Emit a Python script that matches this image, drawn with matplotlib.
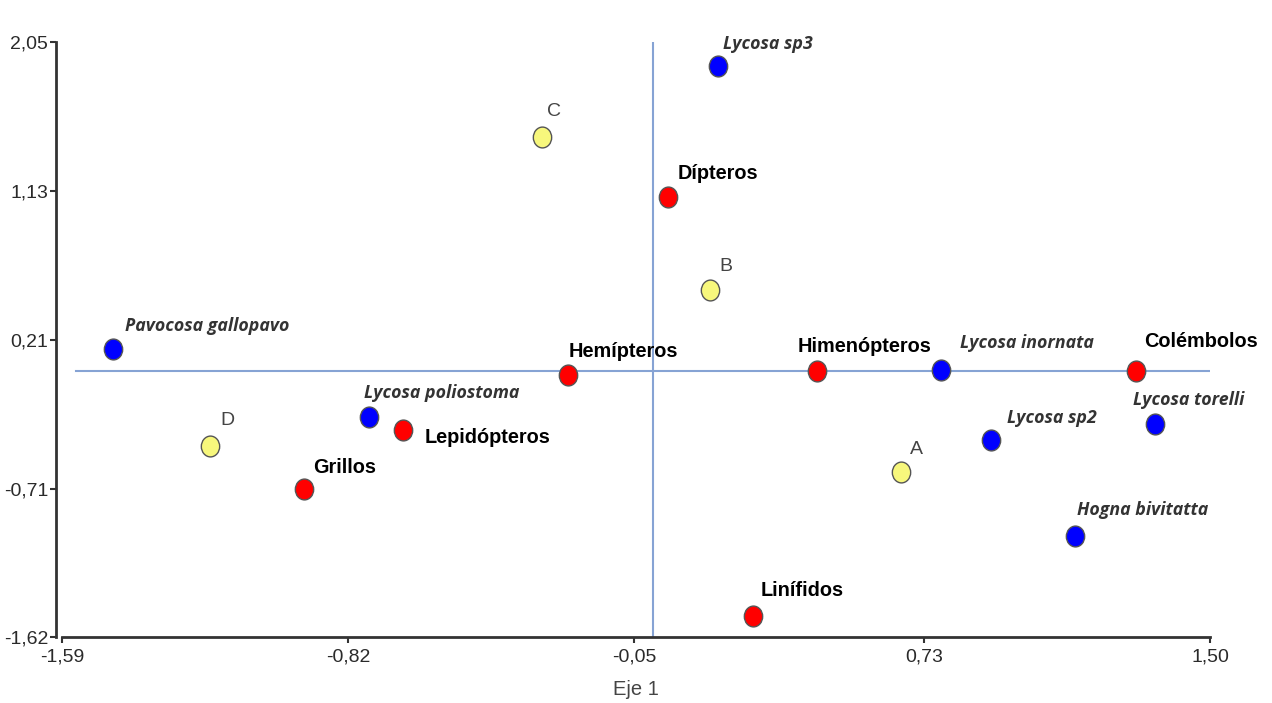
import matplotlib
matplotlib.use('Agg')
import matplotlib.pyplot as plt
from matplotlib.path import Path

# point names, coordinates (Eje 1, Eje 2) and group
names = ['Lycosa sp3', 'C', 'Dípteros', 'B', 'Pavocosa gallopavo', 'Hemípteros',
         'Himenópteros', 'Lycosa inornata', 'Colémbolos', 'Lycosa poliostoma',
         'Lepidópteros', 'D', 'Grillos', 'A', 'Lycosa sp2', 'Lycosa torelli',
         'Hogna bivitatta', 'Linífidos']
eje1 = [0.176, -0.298, 0.041, 0.155, -1.452, -0.227, 0.443, 0.776, 1.301, -0.765,
        -0.671, -1.192, -0.938, 0.669, 0.911, 1.353, 1.136, 0.270]
eje2 = [1.902, 1.462, 1.091, 0.519, 0.159, -0.006, 0.019, 0.025, 0.021, -0.263,
        -0.341, -0.442, -0.705, -0.604, -0.407, -0.308, -0.997, -1.493]
groups = ['spider', 'site', 'prey', 'site', 'spider', 'prey',
          'prey', 'spider', 'prey', 'spider',
          'prey', 'site', 'prey', 'site', 'spider', 'spider',
          'spider', 'prey']

x_ticks = [-1.59, -0.82, -0.05, 0.73, 1.50]
y_ticks = [-1.62, -0.71, 0.21, 1.13, 2.05]
ref_x = 0.0
ref_y = 0.02

colors = {'spider': '#0000ff', 'prey': '#ff0000', 'site': '#f7f77c'}

# label offsets in pixels (left edge / centre of text relative to the point)
offsets = [(5, 22), (12, 26), (10, 24), (16, 24), (12, 23), (0, 24),
           (-20, 25), (19, 27), (8, 29), (-5, 24),
           (21, -8), (18, 26), (9, 21), (15, 23), (16, 22), (-22, 24),
           (2, 26), (8, 26)]

# slightly tall ellipse like the original markers
circ = Path.unit_circle()
ellipse = Path(circ.vertices * [0.88, 1.0], circ.codes)

fig = plt.figure(figsize=(12.72, 7.03), dpi=100)
ax = fig.add_axes([62 / 1272, 66 / 703, 1148 / 1272, 595 / 703])

ax.axvline(ref_x, color='#86a3d4', linewidth=1.5, zorder=1)
ax.axhline(ref_y, xmin=0.012, color='#86a3d4', linewidth=1.5, zorder=1)

for n, x, y, g, off in zip(names, eje1, eje2, groups, offsets):
    ax.plot(x, y, marker=ellipse, markersize=15, color=colors[g],
            markeredgecolor='#555555', markeredgewidth=1.0, linestyle='none', zorder=3)
    if g == 'spider':
        ax.annotate(n, (x, y), xytext=off, textcoords='offset pixels',
                    ha='left', va='center', fontsize=12.8, fontstyle='italic',
                    fontweight='bold', family='Open Sans', color='#333333')
    elif g == 'prey':
        ax.annotate(n, (x, y), xytext=off, textcoords='offset pixels',
                    ha='left', va='center', fontsize=14.3, fontweight='bold',
                    family='Liberation Sans', color='black')
    else:
        ax.annotate(n, (x, y), xytext=off, textcoords='offset pixels',
                    ha='center', va='center', fontsize=14,
                    family='Liberation Sans', color='#444444')

ax.set_xlim(-1.59, 1.50)
ax.set_ylim(-1.62, 2.05)
ax.set_xticks(x_ticks)
ax.set_yticks(y_ticks)
ax.set_xticklabels([f'{v:.2f}'.replace('.', ',') for v in x_ticks])
ax.set_yticklabels([f'{v:.2f}'.replace('.', ',') for v in y_ticks])

for s in ['top', 'right']:
    ax.spines[s].set_visible(False)
for s in ['left', 'bottom']:
    ax.spines[s].set_color('#333333')
    ax.spines[s].set_linewidth(2)
ax.spines['left'].set_position(('outward', 4))

ax.tick_params(direction='out', length=4, width=1.5, color='#333333',
               labelsize=14, labelcolor='#2a2a2a', pad=2)
ax.tick_params(axis='x', pad=4)
for lab in ax.get_xticklabels() + ax.get_yticklabels():
    lab.set_family('Liberation Sans')

ax.set_xlabel('Eje 1', fontsize=14.5, color='#444444', family='Liberation Sans', labelpad=11)

fig.savefig('out.png', dpi=100)
